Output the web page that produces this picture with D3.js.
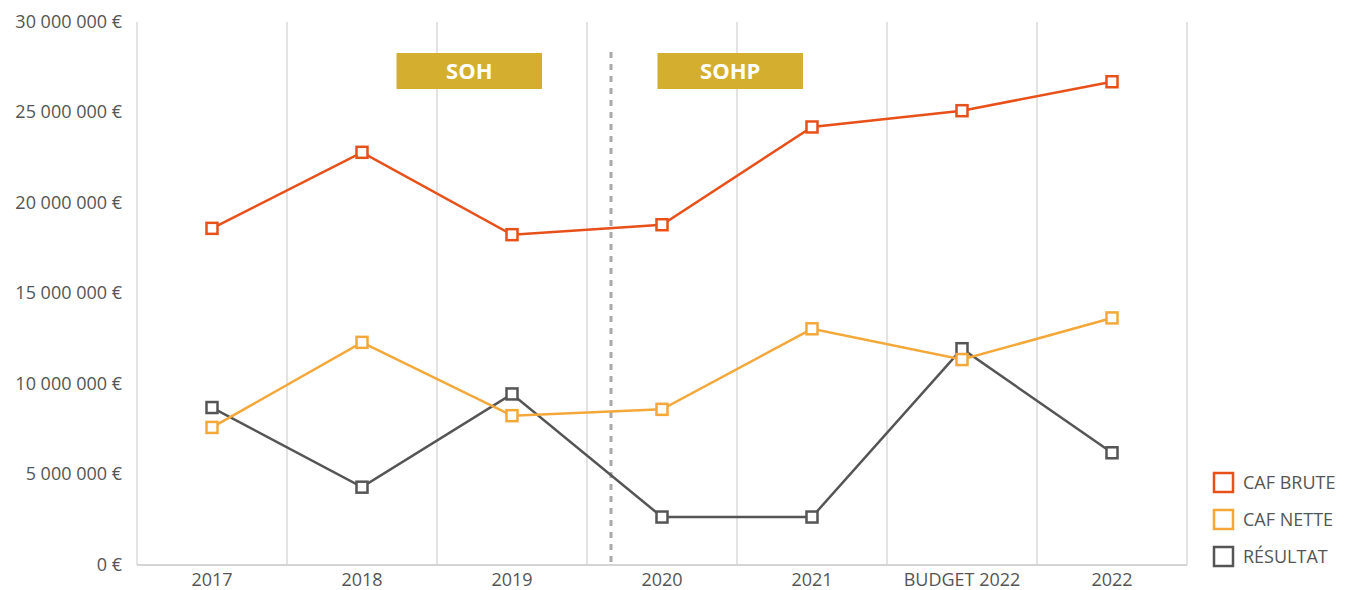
<!DOCTYPE html>
<html>
<head>
<meta charset="utf-8">
<script src="https://d3js.org/d3.v7.min.js"></script>
<style>
  body { margin: 0; background: #fff; }
  text { font-family: "Open Sans", "Noto Sans", sans-serif; }
</style>
</head>
<body>
<div id="my_dataviz"></div>
<script>
// data
var categories = ["2017", "2018", "2019", "2020", "2021", "BUDGET 2022", "2022"];
var cafBrute = [18600000, 22800000, 18250000, 18800000, 24200000, 25100000, 26700000];
var cafNette = [7600000, 12300000, 8250000, 8600000, 13050000, 11350000, 13650000];
var resultat = [8700000, 4300000, 9450000, 2650000, 2650000, 11950000, 6200000];
var seriesNames = ["CAF BRUTE", "CAF NETTE", "RÉSULTAT"];
var yTicks = [0, 5000000, 10000000, 15000000, 20000000, 25000000, 30000000];
var periods = [{label: "SOH", from: 1.73, to: 2.7}, {label: "SOHP", from: 3.47, to: 4.44}];
var splitAt = 3.16; // dashed separator, in category units

var width = 1352, height = 590;
var margin = {top: 22, left: 137, right: 165, bottom: 25};
var w = width - margin.left - margin.right, h = height - margin.top - margin.bottom;

var svg = d3.select("#my_dataviz")
  .append("svg")
    .attr("width", width)
    .attr("height", height)
  .append("g")
    .attr("transform", "translate(" + margin.left + "," + margin.top + ")");

var x = d3.scaleBand().domain(categories).range([0, w]).padding(0);
var xc = function(i) { return x(categories[i]) + x.bandwidth() / 2; };
var xu = d3.scaleLinear().domain([0, categories.length]).range([0, w]);
var y = d3.scaleLinear().domain([0, 30000000]).range([h, 0]);

// vertical gridlines at category boundaries
var bounds = d3.range(categories.length + 1);
svg.selectAll(".vgrid")
  .data(bounds)
  .enter()
  .append("line")
    .attr("x1", function(d) { return xu(d); })
    .attr("x2", function(d) { return xu(d); })
    .attr("y1", 0)
    .attr("y2", h)
    .style("stroke", "#d4d4d4")
    .style("stroke-width", 1.3);

// bottom axis line
svg.append("line")
  .attr("x1", 0).attr("x2", w)
  .attr("y1", h).attr("y2", h)
  .style("stroke", "#d4d4d4")
  .style("stroke-width", 2);

// y labels
var fmt = function(v) { return d3.format(",")(v).replace(/,/g, " ") + " €"; };
svg.selectAll(".ylab")
  .data(yTicks)
  .enter()
  .append("text")
    .attr("x", -15)
    .attr("y", function(d) { return y(d); })
    .attr("dy", "0.33em")
    .attr("text-anchor", "end")
    .style("font-size", 18)
    .style("fill", "#555")
    .text(fmt);

// x labels
svg.selectAll(".xlab")
  .data(categories)
  .enter()
  .append("text")
    .attr("x", function(d, i) { return xc(i); })
    .attr("y", h + 21)
    .attr("text-anchor", "middle")
    .style("font-size", 18)
    .style("fill", "#555")
    .text(function(d) { return d; });

// dashed separator
svg.append("line")
  .attr("x1", xu(splitAt)).attr("x2", xu(splitAt))
  .attr("y1", 30).attr("y2", h)
  .style("stroke", "#aaaaaa")
  .style("stroke-width", 3)
  .style("stroke-dasharray", "6,6");

// period boxes
var pg = svg.selectAll(".period")
  .data(periods)
  .enter()
  .append("g");
pg.append("rect")
  .attr("x", function(d) { return xu(d.from); })
  .attr("y", 31)
  .attr("width", function(d) { return xu(d.to) - xu(d.from); })
  .attr("height", 36)
  .style("fill", "#d4af2f");
pg.append("text")
  .attr("x", function(d) { return (xu(d.from) + xu(d.to)) / 2; })
  .attr("y", 49)
  .attr("dy", "0.35em")
  .attr("text-anchor", "middle")
  .style("font-size", 22)
  .style("font-weight", "bold")
  .style("fill", "#fff")
  .text(function(d) { return d.label; });

// lines + markers
var colors = ["#e8501a", "#f4a83a", "#555555"];
var allSeries = [cafBrute, cafNette, resultat];
var line = d3.line()
  .x(function(d, i) { return xc(i); })
  .y(function(d) { return y(d); });

[2, 1, 0].forEach(function(k) {
  svg.append("path")
    .datum(allSeries[k])
    .attr("d", line)
    .style("fill", "none")
    .style("stroke", colors[k])
    .style("stroke-width", 2.5);
});
[2, 1, 0].forEach(function(k) {
  svg.selectAll(".m" + k)
    .data(allSeries[k])
    .enter()
    .append("rect")
      .attr("x", function(d, i) { return xc(i) - 5.5; })
      .attr("y", function(d) { return y(d) - 5.5; })
      .attr("width", 11)
      .attr("height", 11)
      .style("fill", "#fff")
      .style("stroke", colors[k])
      .style("stroke-width", 2.5);
});

// legend
var lg = d3.select("svg").append("g")
  .attr("transform", "translate(1213,472)");
seriesNames.forEach(function(name, i) {
  lg.append("rect")
    .attr("x", 1)
    .attr("y", i * 37 + 1)
    .attr("width", 19)
    .attr("height", 19)
    .style("fill", "#fff")
    .style("stroke", colors[i])
    .style("stroke-width", 2.5);
  lg.append("text")
    .attr("x", 30)
    .attr("y", i * 37 + 11)
    .attr("dy", "0.35em")
    .style("font-size", 18)
    .style("fill", "#555")
    .text(name);
});
</script>
</body>
</html>
